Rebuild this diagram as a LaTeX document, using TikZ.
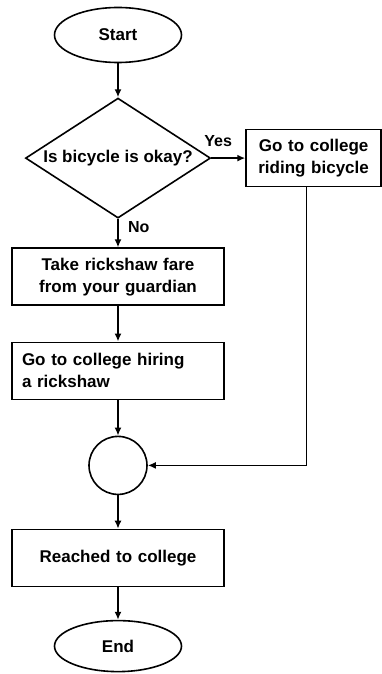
\documentclass[tikz,border=0pt]{standalone}
\usepackage{fontspec}
\setmainfont{Liberation Sans}
\usetikzlibrary{arrows.meta, shapes.geometric, positioning}

\begin{document}
\begin{tikzpicture}[
  x=1pt, y=1pt,
  line width=1.6pt,
  font=\bfseries\fontsize{17}{22}\selectfont,
  terminal/.style={ellipse, draw, minimum width=127pt, minimum height=55pt, inner sep=0pt},
  decision/.style={diamond, draw, shape aspect=1.54, minimum width=185pt, minimum height=120pt, inner sep=0pt},
  box/.style={rectangle, draw, minimum height=57pt, text width=192pt, inner xsep=10pt, align=center},
  joint/.style={circle, draw, minimum size=58pt, inner sep=0pt},
  arrow/.style={-{Latex[length=8pt, width=7pt]}},
  lbl/.style={font=\bfseries\fontsize{16}{20}\selectfont}
]
\useasboundingbox (0,0) rectangle (381,-674);

% Start and question
\node[terminal] (start) at (118,-35) {Start};
\node[decision, below=34pt of start] (check) {Is bicycle is okay?};

% Yes branch
\node[box, text width=115pt, right=34pt of check] (ride) {Go to college\\riding bicycle};

% No branch
\node[box, below=28.5pt of check] (fare) {Take rickshaw fare\\from your guardian};
\node[box, align=left, below=35.5pt of fare] (hire) {Go to college hiring\\a rickshaw};
\node[joint, below=35.5pt of hire] (join) {};
\node[box, below=33.5pt of join] (reach) {Reached to college};
\node[terminal, minimum height=51pt, below=32.5pt of reach] (stop) {End};

% Connectors
\draw[arrow] (start) -- (check);
\draw[arrow] (check) -- node[lbl, above=7pt, pos=0.2] {Yes} (ride);
\draw[arrow] (check) -- node[lbl, right=6pt, pos=0.3] {No} (fare);
\draw[arrow] (fare) -- (hire);
\draw[arrow] (hire) -- (join);
\draw[arrow] ([xshift=-7pt]ride.south) |- (join.east);
\draw[arrow] (join) -- (reach);
\draw[arrow] (reach) -- (stop);

\end{tikzpicture}
\end{document}
